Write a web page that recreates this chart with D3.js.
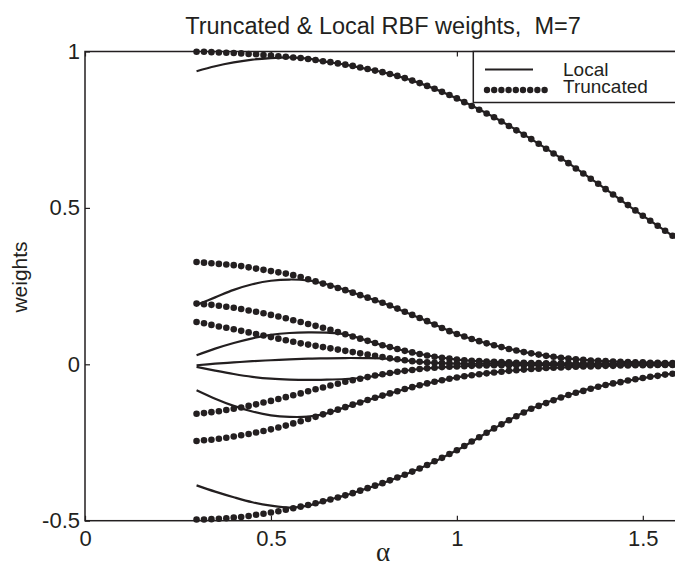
<!DOCTYPE html>
<html>
<head>
<meta charset="utf-8">
<script src="https://cdn.jsdelivr.net/npm/d3@7"></script>
<style>
  body { margin: 0; background: #fff; }
  svg { display: block; font-family: "Liberation Sans", Arial, Helvetica, sans-serif; }
</style>
</head>
<body>
<svg id="chart" width="675" height="570"></svg>
<script>
// alpha grid of the truncated (dotted) curves
const alpha = [0.30,0.32,0.34,0.36,0.38,0.40,0.42,0.44,0.46,0.48,
  0.50,0.52,0.54,0.56,0.58,0.60,0.62,0.64,0.66,0.68,
  0.70,0.72,0.74,0.76,0.78,0.80,0.82,0.84,0.86,0.88,
  0.90,0.92,0.94,0.96,0.98,1.00,1.02,1.04,1.06,1.08,
  1.10,1.12,1.14,1.16,1.18,1.20,1.22,1.24,1.26,1.28,
  1.30,1.32,1.34,1.36,1.38,1.40,1.42,1.44,1.46,1.48,
  1.50,1.52,1.54,1.56,1.58,1.60];

const trunc1 = [0.999,0.999,0.998,0.997,0.996,0.995,0.994,0.992,0.991,0.989,
  0.987,0.985,0.983,0.981,0.979,0.976,0.973,0.969,0.966,0.962,
  0.958,0.954,0.949,0.944,0.939,0.934,0.928,0.922,0.915,0.907,
  0.899,0.890,0.881,0.871,0.861,0.850,0.838,0.826,0.814,0.802,
  0.790,0.776,0.762,0.748,0.734,0.720,0.705,0.689,0.674,0.658,
  0.643,0.626,0.610,0.593,0.577,0.560,0.543,0.526,0.509,0.492,
  0.475,0.459,0.443,0.427,0.411,0.395];
const trunc2 = [0.327,0.325,0.323,0.321,0.319,0.317,0.314,0.310,0.306,0.302,
  0.298,0.294,0.290,0.285,0.279,0.272,0.265,0.258,0.251,0.244,
  0.237,0.229,0.221,0.213,0.205,0.197,0.188,0.178,0.168,0.158,
  0.148,0.138,0.127,0.116,0.106,0.097,0.089,0.081,0.074,0.067,
  0.061,0.055,0.049,0.044,0.039,0.035,0.031,0.027,0.024,0.021,
  0.018,0.016,0.014,0.012,0.011,0.010,0.009,0.008,0.007,0.006,
  0.006,0.005,0.005,0.004,0.004,0.004];
const trunc3 = [0.194,0.192,0.190,0.187,0.184,0.181,0.177,0.172,0.168,0.163,
  0.158,0.153,0.147,0.141,0.135,0.129,0.123,0.117,0.110,0.103,
  0.096,0.089,0.082,0.075,0.068,0.061,0.055,0.049,0.043,0.038,
  0.033,0.028,0.024,0.021,0.018,0.015,0.013,0.011,0.010,0.009,
  0.008,0.007,0.006,0.005,0.005,0.004,0.004,0.003,0.003,0.003,
  0.003,0.002,0.002,0.002,0.002,0.002,0.002,0.002,0.001,0.001,
  0.001,0.001,0.001,0.001,0.001,0.001];
const trunc4 = [0.135,0.131,0.126,0.121,0.117,0.112,0.107,0.102,0.097,0.092,
  0.087,0.082,0.077,0.072,0.067,0.063,0.059,0.055,0.051,0.047,
  0.043,0.039,0.035,0.031,0.027,0.023,0.019,0.016,0.013,0.010,
  0.008,0.006,0.005,0.004,0.003,0.002,0.002,0.002,0.002,0.002,
  0.002,0.002,0.002,0.002,0.002,0.001,0.001,0.001,0.001,0.001,
  0.001,0.001,0.001,0.001,0.001,0.001,0.001,0.001,0.001,0.001,
  0.001,0.001,0.000,0.000,0.000,0.000];
const trunc5 = [-0.158,-0.156,-0.153,-0.150,-0.146,-0.142,-0.138,-0.133,-0.128,-0.122,
  -0.117,-0.111,-0.105,-0.099,-0.093,-0.086,-0.080,-0.074,-0.068,-0.062,
  -0.056,-0.051,-0.046,-0.041,-0.036,-0.032,-0.028,-0.024,-0.021,-0.018,
  -0.015,-0.013,-0.011,-0.009,-0.008,-0.007,-0.006,-0.005,-0.004,-0.004,
  -0.003,-0.003,-0.003,-0.003,-0.003,-0.003,-0.002,-0.002,-0.002,-0.002,
  -0.002,-0.002,-0.002,-0.002,-0.002,-0.002,-0.001,-0.001,-0.001,-0.001,
  -0.001,-0.001,-0.001,-0.001,-0.001,-0.001];
const trunc6 = [-0.245,-0.243,-0.241,-0.238,-0.235,-0.231,-0.227,-0.223,-0.218,-0.213,
  -0.208,-0.202,-0.196,-0.189,-0.182,-0.175,-0.168,-0.160,-0.152,-0.145,
  -0.137,-0.129,-0.122,-0.114,-0.107,-0.100,-0.093,-0.086,-0.079,-0.073,
  -0.067,-0.061,-0.056,-0.051,-0.046,-0.042,-0.038,-0.035,-0.032,-0.029,
  -0.026,-0.024,-0.021,-0.019,-0.017,-0.015,-0.014,-0.012,-0.011,-0.010,
  -0.009,-0.008,-0.007,-0.007,-0.006,-0.005,-0.005,-0.004,-0.004,-0.003,
  -0.003,-0.003,-0.002,-0.002,-0.002,-0.002];
const trunc7 = [-0.496,-0.496,-0.495,-0.494,-0.492,-0.490,-0.488,-0.485,-0.481,-0.478,
  -0.474,-0.470,-0.465,-0.460,-0.455,-0.450,-0.444,-0.438,-0.432,-0.426,
  -0.419,-0.412,-0.404,-0.396,-0.388,-0.380,-0.371,-0.362,-0.353,-0.343,
  -0.333,-0.322,-0.310,-0.299,-0.287,-0.275,-0.261,-0.247,-0.233,-0.219,
  -0.205,-0.192,-0.179,-0.166,-0.154,-0.142,-0.133,-0.124,-0.115,-0.106,
  -0.098,-0.091,-0.085,-0.078,-0.072,-0.066,-0.061,-0.057,-0.052,-0.048,
  -0.044,-0.040,-0.037,-0.033,-0.030,-0.027];

// alpha grid of the local (solid) curves
const alphaLocal = [0.30,0.35,0.40,0.45,0.50,0.55,0.60,0.65,0.70,0.75,0.80,0.90,1.00,1.10,1.20,1.30,1.40,1.50,1.60];
const local1 = [0.937,0.953,0.965,0.974,0.979,0.981,0.977,0.967,0.958,0.946,0.934,0.899,0.850,0.790,0.720,0.643,0.560,0.475,0.395];
const local2 = [0.190,0.214,0.238,0.256,0.267,0.271,0.268,0.256,0.238,0.217,0.197,0.148,0.097,0.061,0.035,0.018,0.010,0.006,0.004];
const local3 = [0.029,0.050,0.068,0.083,0.094,0.100,0.102,0.101,0.096,0.079,0.061,0.033,0.015,0.008,0.004,0.003,0.002,0.001,0.001];
const local4 = [-0.003,0.002,0.006,0.010,0.013,0.016,0.018,0.019,0.020,0.020,0.019,0.008,0.002,0.002,0.002,0.001,0.001,0.001,0.001];
const local5 = [-0.008,-0.020,-0.031,-0.040,-0.046,-0.049,-0.050,-0.049,-0.047,-0.043,-0.032,-0.015,-0.007,-0.003,-0.003,-0.002,-0.002,-0.001,-0.001];
const local6 = [-0.083,-0.110,-0.133,-0.151,-0.163,-0.168,-0.167,-0.157,-0.137,-0.118,-0.100,-0.067,-0.042,-0.026,-0.015,-0.009,-0.005,-0.003,-0.002];
const local7 = [-0.387,-0.407,-0.425,-0.441,-0.452,-0.458,-0.452,-0.435,-0.419,-0.400,-0.380,-0.333,-0.275,-0.205,-0.142,-0.098,-0.066,-0.044,-0.027];

const xTicks = [0, 0.5, 1, 1.5];
const yTicks = [-0.5, 0, 0.5, 1];
const legendLabels = ["Local", "Truncated"];

const truncated = [trunc1, trunc2, trunc3, trunc4, trunc5, trunc6, trunc7];
const locals = [local1, local2, local3, local4, local5, local6, local7];

const ink = "#231f20";
const svg = d3.select("#chart");
const margin = { top: 51.5, right: -5, bottom: 49.3, left: 85 };
const width = +svg.attr("width");
const height = +svg.attr("height");

const x = d3.scaleLinear().domain([0, 1.6]).range([margin.left, width - margin.right]);
const y = d3.scaleLinear().domain([-0.5, 1]).range([height - margin.bottom, margin.top]);

// axes, ticks pointing inwards like matlab
const fmt = d => String(d);
svg.append("g")
  .attr("transform", `translate(0,${y(-0.5)})`)
  .call(d3.axisBottom(x).tickValues(xTicks).tickFormat(fmt).tickSizeInner(-5).tickSizeOuter(0).tickPadding(10))
  .call(g => g.select(".domain").remove());
svg.append("g")
  .attr("transform", `translate(0,${y(1)})`)
  .call(d3.axisTop(x).tickValues(xTicks).tickFormat("").tickSizeInner(-5).tickSizeOuter(0))
  .call(g => g.select(".domain").remove());
svg.append("g")
  .attr("transform", `translate(${x(0)},0)`)
  .call(d3.axisLeft(y).tickValues(yTicks).tickFormat(fmt).tickSizeInner(-5).tickSizeOuter(0).tickPadding(5))
  .call(g => g.select(".domain").remove());
svg.append("g")
  .attr("transform", `translate(${x(1.6)},0)`)
  .call(d3.axisRight(y).tickValues(yTicks).tickFormat("").tickSizeInner(-5).tickSizeOuter(0))
  .call(g => g.select(".domain").remove());

svg.selectAll(".tick line").attr("stroke", ink).attr("stroke-width", 1.2);
svg.selectAll(".tick text")
  .attr("fill", ink)
  .style("font-size", "22px")
  .style("font-family", "'Liberation Sans', Arial, sans-serif");

svg.append("rect")
  .attr("x", x(0)).attr("y", y(1))
  .attr("width", x(1.6) - x(0)).attr("height", y(-0.5) - y(1))
  .attr("fill", "none").attr("stroke", ink).attr("stroke-width", 1.5);

// local weights (solid)
const line = d3.line()
  .x((d, i) => x(alphaLocal[i]))
  .y(d => y(d))
  .curve(d3.curveCatmullRom.alpha(0.5));

svg.append("g").selectAll("path")
  .data(locals)
  .join("path")
  .attr("fill", "none")
  .attr("stroke", ink)
  .attr("stroke-width", 2.2)
  .attr("d", line);

// truncated weights (dots)
truncated.forEach(series => {
  svg.append("g").selectAll("circle")
    .data(series)
    .join("circle")
    .attr("cx", (d, i) => x(alpha[i]))
    .attr("cy", d => y(d))
    .attr("r", 3.3)
    .attr("fill", ink);
});

// legend
const legend = svg.append("g");
legend.append("rect")
  .attr("x", 473.3).attr("y", y(1))
  .attr("width", 210).attr("height", 51)
  .attr("fill", "#fff").attr("stroke", ink).attr("stroke-width", 1.5);
legend.append("line")
  .attr("x1", 485).attr("x2", 533).attr("y1", 69.5).attr("y2", 69.5)
  .attr("stroke", ink).attr("stroke-width", 2.2);
legend.selectAll("circle")
  .data(d3.range(9))
  .join("circle")
  .attr("cx", i => 487 + i * 7.2)
  .attr("cy", 90)
  .attr("r", 3.2)
  .attr("fill", ink);
legend.selectAll("text")
  .data(legendLabels)
  .join("text")
  .attr("x", 563)
  .attr("y", (d, i) => 76 + i * 17)
  .attr("fill", ink)
  .style("font-size", "19px")
  .text(d => d);

// title and axis labels
svg.append("text")
  .attr("x", 383).attr("y", 34)
  .attr("text-anchor", "middle")
  .attr("fill", ink)
  .style("font-size", "23.5px")
  .style("white-space", "pre")
  .text("Truncated & Local RBF weights,  M=7");

svg.append("text")
  .attr("transform", "translate(27,277) rotate(-90)")
  .attr("text-anchor", "middle")
  .attr("fill", ink)
  .style("font-size", "21px")
  .text("weights");

svg.append("text")
  .attr("x", 383).attr("y", 561)
  .attr("text-anchor", "middle")
  .attr("fill", ink)
  .style("font-size", "27px")
  .style("font-family", "'Liberation Serif', 'Times New Roman', serif")
  .text("α");
</script>
</body>
</html>
